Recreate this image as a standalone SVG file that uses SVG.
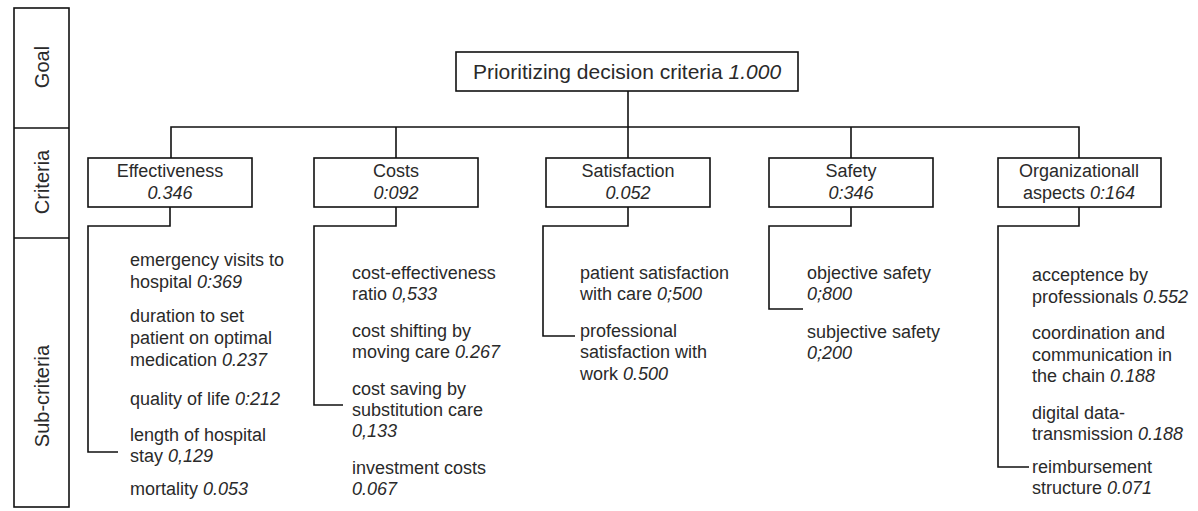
<svg xmlns="http://www.w3.org/2000/svg" width="1198" height="511" viewBox="0 0 1198 511">
  <style>
    .frame { fill: #ffffff; stroke: #111111; stroke-width: 1.6; }
    .wire { fill: none; stroke: #111111; stroke-width: 1.6; }
    text { font-family: "Liberation Sans", Arial, sans-serif; fill: #2a2a2a; }
    .lvl { font-size: 20px; text-anchor: middle; }
    .title { font-size: 21px; text-anchor: middle; }
    .crit { font-size: 18px; text-anchor: middle; }
    .sub { font-size: 18px; }
    .w { font-style: italic; }
  </style>
  <rect width="1198" height="511" fill="#ffffff"/>

  <!-- level column on the left -->
  <g id="levels">
    <rect class="frame" x="14" y="8" width="55" height="499"/>
    <line class="wire" x1="14" y1="128" x2="69" y2="128"/>
    <line class="wire" x1="14" y1="238" x2="69" y2="238"/>
    <text class="lvl" transform="translate(49,67) rotate(-90)">Goal</text>
    <text class="lvl" transform="translate(49,182) rotate(-90)">Criteria</text>
    <text class="lvl" transform="translate(49,396) rotate(-90)">Sub-criteria</text>
  </g>

  <!-- tree connectors -->
  <g id="connectors">
    <path class="wire" d="M628 91 V127"/>
    <path class="wire" d="M171 158 V127 H1079 V158"/>
    <path class="wire" d="M396 127 V158"/>
    <path class="wire" d="M628 127 V158"/>
    <path class="wire" d="M851 127 V158"/>
    <path class="wire" d="M170 207 V226 H88 V452 H118"/>
    <path class="wire" d="M396 207 V226 H314 V405 H343"/>
    <path class="wire" d="M628 207 V226 H543 V336 H575"/>
    <path class="wire" d="M851 207 V226 H769 V309 H803"/>
    <path class="wire" d="M1079 207 V226 H998 V467 H1029"/>
  </g>

  <g id="goal">
    <rect class="frame" x="456" y="52" width="342" height="39"/>
    <text class="title" x="627" y="79">Prioritizing decision criteria <tspan class="w">1.000</tspan></text>
  </g>

  <g id="effectiveness">
    <rect class="frame" x="88" y="158" width="164" height="49"/>
    <text class="crit" x="170" y="177">Effectiveness</text>
    <text class="crit w" x="170" y="199">0.346</text>
  </g>
  <g id="costs">
    <rect class="frame" x="314" y="158" width="164" height="49"/>
    <text class="crit" x="396" y="177">Costs</text>
    <text class="crit w" x="396" y="199">0:092</text>
  </g>
  <g id="satisfaction">
    <rect class="frame" x="546" y="158" width="164" height="49"/>
    <text class="crit" x="628" y="177">Satisfaction</text>
    <text class="crit w" x="628" y="199">0.052</text>
  </g>
  <g id="safety">
    <rect class="frame" x="769" y="158" width="164" height="49"/>
    <text class="crit" x="851" y="177">Safety</text>
    <text class="crit w" x="851" y="199">0:346</text>
  </g>
  <g id="organizational">
    <rect class="frame" x="998" y="158" width="163" height="49"/>
    <text class="crit" x="1079" y="177">Organizationall</text>
    <text class="crit" x="1079" y="199">aspects <tspan class="w">0:164</tspan></text>
  </g>

  <g id="sub-effectiveness" class="sub">
    <text class="sub" x="130" y="266">emergency visits to</text>
    <text class="sub" x="130" y="288">hospital <tspan class="w">0:369</tspan></text>
    <text class="sub" x="130" y="322">duration to set</text>
    <text class="sub" x="130" y="344">patient on optimal</text>
    <text class="sub" x="130" y="366">medication <tspan class="w">0.237</tspan></text>
    <text class="sub" x="130" y="405">quality of life <tspan class="w">0:212</tspan></text>
    <text class="sub" x="130" y="441">length of hospital</text>
    <text class="sub" x="130" y="462">stay <tspan class="w">0,129</tspan></text>
    <text class="sub" x="130" y="495">mortality <tspan class="w">0.053</tspan></text>
  </g>

  <g id="sub-costs">
    <text class="sub" x="352" y="279">cost-effectiveness</text>
    <text class="sub" x="352" y="300">ratio <tspan class="w">0,533</tspan></text>
    <text class="sub" x="352" y="337">cost shifting by</text>
    <text class="sub" x="352" y="358">moving care <tspan class="w">0.267</tspan></text>
    <text class="sub" x="352" y="395">cost saving by</text>
    <text class="sub" x="352" y="416">substitution care</text>
    <text class="sub w" x="352" y="437">0,133</text>
    <text class="sub" x="352" y="474">investment costs</text>
    <text class="sub w" x="352" y="495">0.067</text>
  </g>

  <g id="sub-satisfaction">
    <text class="sub" x="580" y="279">patient satisfaction</text>
    <text class="sub" x="580" y="300">with care <tspan class="w">0;500</tspan></text>
    <text class="sub" x="580" y="337">professional</text>
    <text class="sub" x="580" y="358">satisfaction with</text>
    <text class="sub" x="580" y="380">work <tspan class="w">0.500</tspan></text>
  </g>

  <g id="sub-safety">
    <text class="sub" x="807" y="279">objective safety</text>
    <text class="sub w" x="807" y="300">0;800</text>
    <text class="sub" x="807" y="338">subjective safety</text>
    <text class="sub w" x="807" y="359">0;200</text>
  </g>

  <g id="sub-organizational">
    <text class="sub" x="1032" y="281">acceptence by</text>
    <text class="sub" x="1032" y="303">professionals <tspan class="w">0.552</tspan></text>
    <text class="sub" x="1032" y="339">coordination and</text>
    <text class="sub" x="1032" y="361">communication in</text>
    <text class="sub" x="1032" y="382">the chain <tspan class="w">0.188</tspan></text>
    <text class="sub" x="1032" y="419">digital data-</text>
    <text class="sub" x="1032" y="440">transmission <tspan class="w">0.188</tspan></text>
    <text class="sub" x="1032" y="473">reimbursement</text>
    <text class="sub" x="1032" y="494">structure <tspan class="w">0.071</tspan></text>
  </g>
</svg>
